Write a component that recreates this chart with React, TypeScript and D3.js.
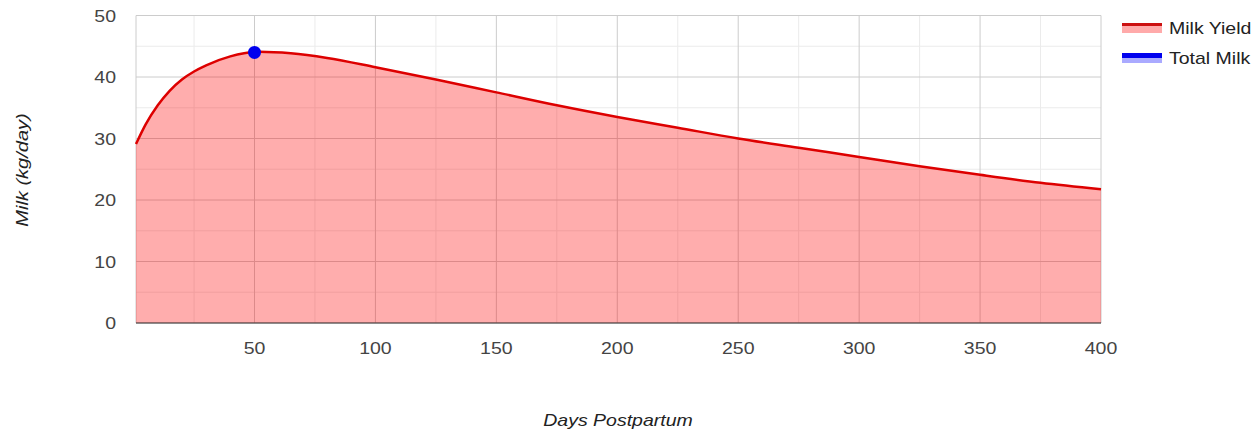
import React from "react";
import * as d3 from "d3";

const days = [1, 5, 10, 15, 20, 25, 30, 40, 52, 65, 80, 100, 125, 150, 175, 200, 225, 250, 275, 300, 325, 350, 375, 400];
const milkYield = [29.1, 32.3, 35.4, 37.8, 39.6, 40.9, 41.9, 43.35, 44.1, 43.85, 43.1, 41.6, 39.6, 37.5, 35.4, 33.5, 31.75, 30.0, 28.5, 27.0, 25.5, 24.1, 22.8, 21.75];
const totalMilkPoint = [{ day: 50, value: 44.0 }];
const xTicks = [50, 100, 150, 200, 250, 300, 350, 400];
const xMinor = [25, 75, 125, 175, 225, 275, 325, 375];
const yTicks = [0, 10, 20, 30, 40, 50];
const yMinor = [5, 15, 25, 35, 45];
const legendItems = [
  { label: "Milk Yield", color: "#cc1111", light: "#ffaaaa", thick: 3 },
  { label: "Total Milk", color: "#0000ee", light: "#aaaaff", thick: 5 },
];

export default function App() {
  const W = 1254, H = 431;
  const left = 136, right = 1101, top = 15.5, bottom = 323;
  const sx = 1.22;
  const x = d3.scaleLinear().domain([1, 400]).range([left, right]);
  const y = d3.scaleLinear().domain([0, 50]).range([bottom, top]);
  const pts = days.map((d, i) => [d, milkYield[i]] as [number, number]);
  const line = d3.line<[number, number]>().x(d => x(d[0])).y(d => y(d[1])).curve(d3.curveMonotoneX);
  const area = d3.area<[number, number]>().x(d => x(d[0])).y0(y(0)).y1(d => y(d[1])).curve(d3.curveMonotoneX);
  const font = "'Liberation Sans', Arial, sans-serif";
  return (
    <svg width={W} height={H} style={{ position: "absolute", left: 0, top: 0, background: "#fff" }} fontFamily={font}>
      {xMinor.map(t => (
        <line key={"xm" + t} x1={x(t)} x2={x(t)} y1={top} y2={bottom} stroke="#ebebeb" strokeWidth={1} />
      ))}
      {yMinor.map(t => (
        <line key={"ym" + t} x1={left} x2={right} y1={y(t)} y2={y(t)} stroke="#ebebeb" strokeWidth={1} />
      ))}
      {xTicks.map(t => (
        <line key={"xg" + t} x1={x(t)} x2={x(t)} y1={top} y2={bottom} stroke="#cccccc" strokeWidth={1} />
      ))}
      {yTicks.map(t => (
        <line key={"yg" + t} x1={left} x2={right} y1={y(t)} y2={y(t)} stroke="#cccccc" strokeWidth={1} />
      ))}
      <line x1={left} x2={left} y1={top} y2={bottom} stroke="#cccccc" strokeWidth={1} />
      <path d={area(pts) || ""} fill="#ff0000" fillOpacity={0.32} />
      <path d={line(pts) || ""} fill="none" stroke="#dd0000" strokeWidth={2.5} />
      <line x1={left} x2={right} y1={bottom} y2={bottom} stroke="#333333" strokeWidth={1} />
      {totalMilkPoint.map((p, i) => (
        <circle key={i} cx={x(p.day)} cy={y(p.value)} r={6.5} fill="#0000ee" />
      ))}
      {yTicks.map(t => (
        <text key={"yl" + t} transform={`translate(116,${y(t) + 6}) scale(${sx},1)`} textAnchor="end" fontSize={16} fill="#444">{t}</text>
      ))}
      {xTicks.map(t => (
        <text key={"xl" + t} transform={`translate(${x(t)},354) scale(${sx},1)`} textAnchor="middle" fontSize={16} fill="#444">{t}</text>
      ))}
      <text transform={`translate(618,426) scale(${sx},1)`} textAnchor="middle" fontSize={16} fontStyle="italic" fill="#222">Days Postpartum</text>
      <text transform={`translate(28,170) rotate(-90) scale(1.25,1)`} textAnchor="middle" fontSize={16} fontStyle="italic" fill="#222">Milk (kg/day)</text>
      {legendItems.map((it, i) => (
        <g key={it.label} transform={`translate(1122, ${23 + i * 30})`}>
          <rect x={0} y={0} width={40} height={10} fill={it.light} />
          <rect x={0} y={0} width={40} height={it.thick} fill={it.color} />
          <text transform={`translate(47,10.5) scale(${sx},1)`} fontSize={16} fill="#222">{it.label}</text>
        </g>
      ))}
    </svg>
  );
}
